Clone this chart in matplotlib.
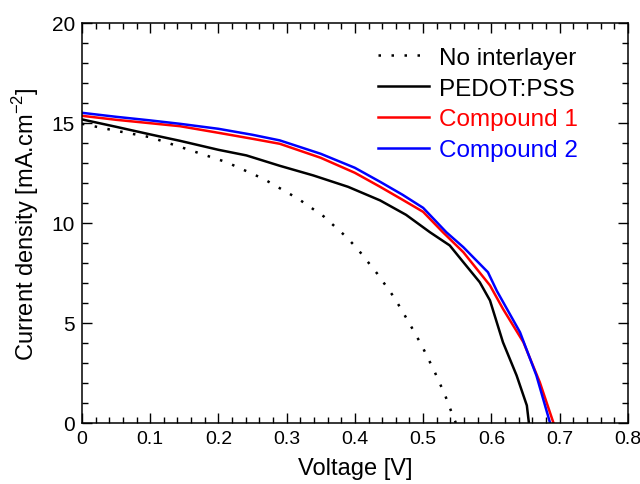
import numpy as np
import matplotlib
matplotlib.use('Agg')
import matplotlib.pyplot as plt
from matplotlib.ticker import MultipleLocator, FuncFormatter

matplotlib.rcParams['font.family'] = ['Liberation Sans', 'DejaVu Sans']

# no interlayer (dotted)
v_none = [0, 0.05, 0.1, 0.1436, 0.212, 0.266, 0.317, 0.354, 0.388, 0.405, 0.433,
          0.458, 0.479, 0.498, 0.516, 0.532, 0.545, 0.548]
j_none = [14.95, 14.6, 14.28, 13.8, 13.03, 12.2, 11.2, 10.33, 9.28, 8.65, 7.45,
          6.25, 5.03, 3.87, 2.62, 1.4, 0.23, 0.0]

# PEDOT:PSS
v_pedot = [0, 0.05, 0.1, 0.1436, 0.2, 0.241, 0.29, 0.339, 0.39, 0.437, 0.475, 0.51,
           0.539, 0.559, 0.583, 0.598, 0.617, 0.637, 0.652, 0.655]
j_pedot = [15.17, 14.8, 14.42, 14.1, 13.65, 13.37, 12.85, 12.37, 11.8, 11.12, 10.4, 9.53,
           8.87, 8.03, 7.03, 6.12, 4.03, 2.37, 0.87, 0.0]

# compound 1
v_c1 = [0, 0.05, 0.1, 0.1436, 0.2, 0.25, 0.29, 0.35, 0.4, 0.437, 0.47, 0.5,
        0.529, 0.559, 0.598, 0.617, 0.647, 0.671, 0.691]
j_c1 = [15.35, 15.15, 14.98, 14.83, 14.5, 14.2, 13.95, 13.25, 12.5, 11.8, 11.15, 10.55,
        9.53, 8.53, 6.87, 5.7, 4.03, 2.03, 0.0]

# compound 2
v_c2 = [0, 0.05, 0.1, 0.1436, 0.2, 0.25, 0.29, 0.35, 0.4, 0.437, 0.47, 0.5,
        0.534, 0.559, 0.595, 0.608, 0.642, 0.666, 0.686]
j_c2 = [15.5, 15.3, 15.12, 14.95, 14.7, 14.4, 14.12, 13.45, 12.75, 12.05, 11.4, 10.75,
        9.53, 8.78, 7.53, 6.6, 4.53, 2.37, 0.0]

labels = ['No interlayer', 'PEDOT:PSS', 'Compound 1', 'Compound 2']
colors = ['black', 'black', '#ff0000', '#0000ff']

fig = plt.figure(figsize=(6.4, 4.85), dpi=100)
ax = fig.add_axes([0.128, 0.126, 0.853, 0.825])

ax.plot(v_none, j_none, color=colors[0], lw=1.8, ls=(0, (1, 4.2)), label=labels[0])
ax.plot(v_pedot, j_pedot, color=colors[1], lw=1.8, label=labels[1])
ax.plot(v_c1, j_c1, color=colors[2], lw=1.8, label=labels[2])
ax.plot(v_c2, j_c2, color=colors[3], lw=1.8, label=labels[3])

ax.set_xlim(0, 0.8)
ax.set_ylim(0, 20)
ax.xaxis.set_major_locator(MultipleLocator(0.1))
ax.xaxis.set_minor_locator(MultipleLocator(0.02))
ax.yaxis.set_major_locator(MultipleLocator(5))
ax.yaxis.set_minor_locator(MultipleLocator(1))
ax.xaxis.set_major_formatter(FuncFormatter(lambda x, p: '0' if x == 0 else '%.1f' % x))
ax.tick_params(which='both', direction='in', top=True, right=True, pad=5)
ax.tick_params(axis='x', labelsize=14)
ax.tick_params(axis='y', labelsize=15)
ax.tick_params(which='major', length=7, width=1)
ax.tick_params(which='minor', length=4, width=1)
for s in ax.spines.values():
    s.set_linewidth(1.1)

ax.set_xlabel('Voltage [V]', fontsize=17)
ax.set_ylabel('Current density [mA.cm$^{\\mathregular{-2}}$]', fontsize=17)
ax.xaxis.set_label_coords(0.5, -0.085)
ax.yaxis.set_label_coords(-0.075, 0.5)

leg = ax.legend(loc='upper left', bbox_to_anchor=(0.542, 0.94), frameon=False,
                fontsize=17.5, borderpad=0, borderaxespad=0, handlelength=2.1,
                handletextpad=0.4, labelspacing=0.36)
for txt, c in zip(leg.get_texts(), colors):
    txt.set_color(c)

fig.savefig('out.png', dpi=100)
